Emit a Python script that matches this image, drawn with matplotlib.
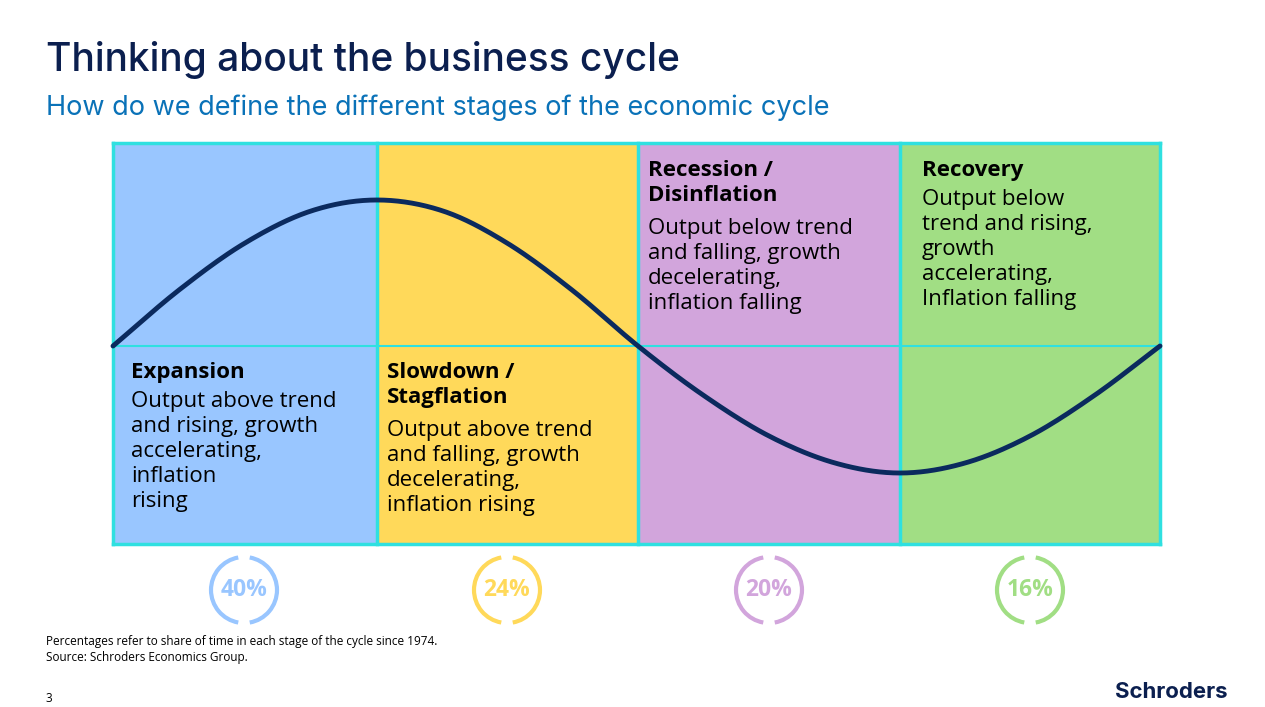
import matplotlib
matplotlib.use("Agg")
import matplotlib.pyplot as plt
import numpy as np
from matplotlib.patches import Rectangle, Arc

stages = ["Expansion", "Slowdown /\nStagflation", "Recession /\nDisinflation", "Recovery"]
descs = ["Output above trend\nand rising, growth\naccelerating,\ninflation\nrising",
         "Output above trend\nand falling, growth\ndecelerating,\ninflation rising",
         "Output below trend\nand falling, growth\ndecelerating,\ninflation falling",
         "Output below\ntrend and rising,\ngrowth\naccelerating,\nInflation falling"]
shares = [40, 24, 20, 16]
colors = ["#99c6ff", "#ffd95a", "#d2a5dc", "#a1de84"]
curve_x = [113,179,245,311,377,443,507,572,638,703,769,835,900,965,1030,1095,1160]
curve_y = [346,290,243,211,200,211,243,290,346,395,436,463,473,463,436,395,346]

fig = plt.figure(figsize=(12.65, 7.07), dpi=100)
ax = fig.add_axes([0, 0, 1, 1])
ax.set_xlim(0, 1265); ax.set_ylim(707, 0); ax.axis("off")
F = "Open Sans"
edges = [113, 377, 638, 900, 1160]
top, mid, bot = 143, 346, 544
for i in range(4):
    ax.add_patch(Rectangle((edges[i], top), edges[i+1]-edges[i], bot-top, fc=colors[i], ec="none"))
cy = "#2fe0e0"
for x in edges:
    ax.plot([x, x], [top, bot], color=cy, lw=2.5)
for y in [top, bot]:
    ax.plot([113, 1160], [y, y], color=cy, lw=2.5)
ax.plot([113, 1160], [mid, mid], color=cy, lw=1.5)

P = np.array(list(zip(curve_x, curve_y)), float)
P = np.vstack([2*P[0]-P[1], P, 2*P[-1]-P[-2]])
pts = []
for i in range(1, len(P)-2):
    p0, p1, p2, p3 = P[i-1], P[i], P[i+1], P[i+2]
    for t in np.linspace(0, 1, 20):
        pts.append(0.5*((2*p1)+(-p0+p2)*t+(2*p0-5*p1+4*p2-p3)*t**2+(-p0+3*p1-3*p2+p3)*t**3))
pts = np.array(pts)
ax.plot(pts[:, 0], pts[:, 1], color="#0b2a5e", lw=3.5, solid_capstyle="round")

lh = 29
pos = [(131, 362), (387, 362), (648, 160), (922, 160)]
for (x, y), s, d in zip(pos, stages, descs):
    nl = s.count("\n") + 1
    ax.text(x, y, s, fontsize=16, fontweight="bold", family=F, va="top", color="black", linespacing=1.25)
    ax.text(x, y + nl*lh, d, fontsize=16, family=F, va="top", color="black", linespacing=1.25)

cx = [244, 507, 769, 1030]
for x, s, c in zip(cx, shares, colors):
    for a1, a2 in [(100, 260), (-80, 80)]:
        ax.add_patch(Arc((x, 590), 66, 66, theta1=a1, theta2=a2, color=c, lw=3))
    ax.text(x, 590, f"{s}%", fontsize=16.5, fontweight="bold", family=F, color=c, ha="center", va="center")

ax.text(46, 60, "Thinking about the business cycle", fontsize=28, family="Inter", fontweight="medium", color="#0b1f4f", va="center")
ax.text(46, 108, "How do we define the different stages of the economic cycle", fontsize=19.5, family="Inter", color="#0a72b8", va="center")
ax.text(46, 642, "Percentages refer to share of time in each stage of the cycle since 1974.", fontsize=8.5, family=F, va="center")
ax.text(46, 657, "Source: Schroders Economics Group.", fontsize=8.5, family=F, va="center")
ax.text(46, 698, "3", fontsize=8.5, family=F, va="center")
ax.text(1228, 692, "Schroders", fontsize=16, fontweight="bold", family="Inter", color="#0b1f4f", ha="right", va="center")
fig.savefig("out.png", dpi=100)
